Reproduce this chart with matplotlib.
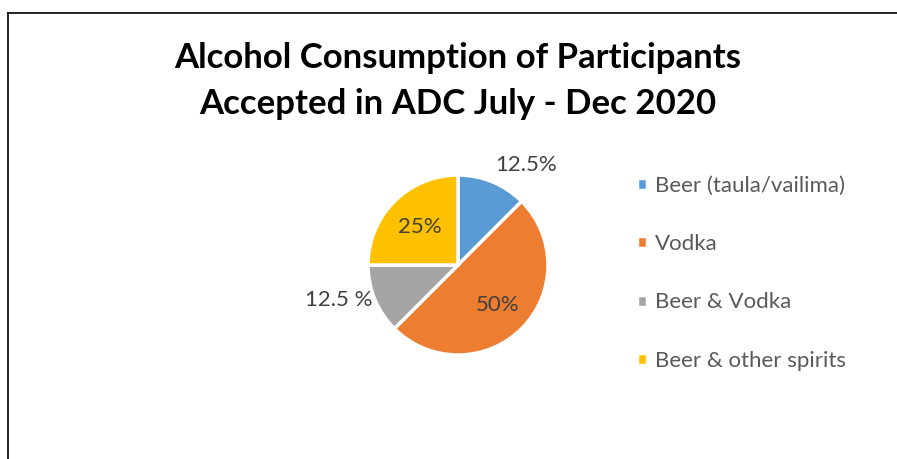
import matplotlib
matplotlib.use('Agg')
import matplotlib.pyplot as plt
from matplotlib.lines import Line2D
import numpy as np

plt.rcParams['font.family'] = ['Lato', 'DejaVu Sans']

categories = ['Beer (taula/vailima)', 'Vodka', 'Beer & Vodka', 'Beer & other spirits']
shares = [12.5, 50, 12.5, 25]
slice_labels = ['12.5%', '50%', '12.5 %', '25%']
colors = ['#5b9bd5', '#ed7d31', '#a5a5a5', '#ffc000']
title = 'Alcohol Consumption of Participants\nAccepted in ADC July - Dec 2020'

W, H = 897, 459
fig = plt.figure(figsize=(W / 100, H / 100), dpi=100)

# outline of the chart area (only top and left edges show)
fig.add_artist(Line2D([8 / W, 1], [1 - 12.5 / H, 1 - 12.5 / H], color='black', lw=1.2))
fig.add_artist(Line2D([8 / W, 8 / W], [0, 1 - 12.5 / H], color='black', lw=1.2))

fig.text(458 / W, 1 - 81 / H, title, ha='center', va='center', fontsize=25,
         fontweight='bold', linespacing=1.5)

# pie: centre (458, 265) px, radius 90 px
R = 90
ax = fig.add_axes([(458 - R) / W, (H - 265 - R) / H, 2 * R / W, 2 * R / H])
wedges, _ = ax.pie(shares, colors=colors, startangle=90, counterclock=False,
                   wedgeprops=dict(edgecolor='white', linewidth=2.5))
ax.set_xlim(-1, 1)
ax.set_ylim(-1, 1)

# label placement: radial distance and alignment per slice
dist = [1.08, 0.63, 1.03, 0.6]
align = [('left', 'bottom'), ('center', 'center'), ('right', 'center'), ('center', 'center')]
for w, lab, d, (ha, va) in zip(wedges, slice_labels, dist, align):
    mid = np.deg2rad((w.theta1 + w.theta2) / 2)
    ax.text(d * np.cos(mid), d * np.sin(mid), lab, ha=ha, va=va, fontsize=16,
            color='#404040', clip_on=False)

fig.legend(wedges, categories, loc='upper left', bbox_to_anchor=(637 / W, 1 - 176 / H),
           frameon=False, fontsize=16, labelcolor='#595959', handlelength=0.45,
           handleheight=0.45, handletextpad=0.35, labelspacing=1.72,
           borderpad=0, borderaxespad=0)

fig.savefig('out.png', dpi=100)
